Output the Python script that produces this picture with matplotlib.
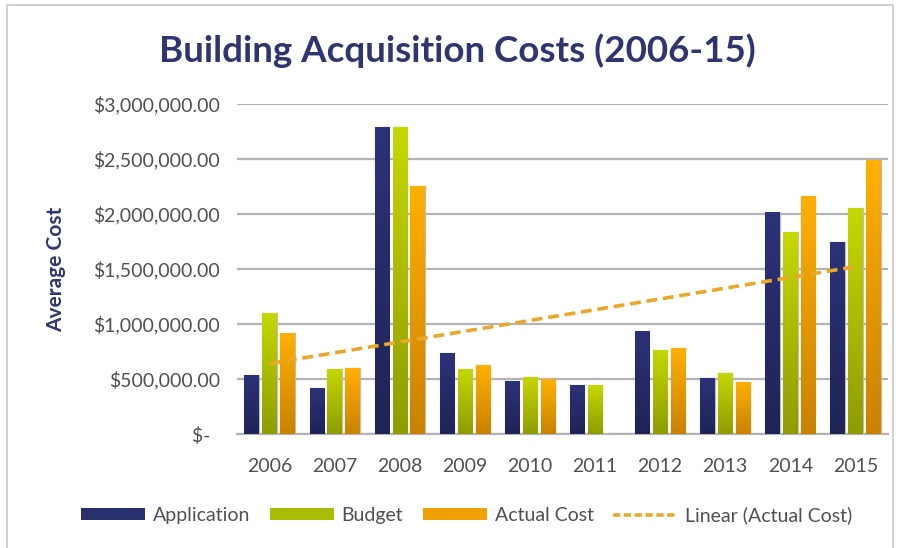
import numpy as np
import matplotlib
matplotlib.use("Agg")
import matplotlib.pyplot as plt
from matplotlib.colors import LinearSegmentedColormap
from matplotlib.patches import Patch, Rectangle
from matplotlib.lines import Line2D
from matplotlib.ticker import FuncFormatter

years = ["2006", "2007", "2008", "2009", "2010", "2011", "2012", "2013", "2014", "2015"]
application = [536000, 418000, 2790000, 736000, 482000, 445000, 936000, 509000, 2018000, 1745000]
budget = [1100000, 591000, 2790000, 591000, 518000, 445000, 764000, 555000, 1836000, 2055000]
actual = [918000, 600000, 2255000, 627000, 500000, 0, 782000, 473000, 2164000, 2490000]

series = [
    ("Application", application, "#1F2456", "#2C3278", "#28306E"),
    ("Budget", budget, "#8E9C00", "#C6D800", "#A8BC00"),
    ("Actual Cost", actual, "#C98200", "#FFB000", "#F0A000"),
]

navy = "#2E3570"
tick_col = "#505050"
plt.rcParams["font.family"] = ["Lato", "DejaVu Sans"]

fig = plt.figure(figsize=(9.04, 5.48), dpi=100)
ax = fig.add_axes([237 / 904, 114 / 548, 651 / 904, 330 / 548])

x = np.arange(len(years))
width = 0.22
offsets = [-0.275, 0.0, 0.275]
grad = np.linspace(0, 1, 256).reshape(-1, 1)

for (name, vals, c_bot, c_top, _), off in zip(series, offsets):
    cmap = LinearSegmentedColormap.from_list(name, [c_bot, c_top])
    bars = ax.bar(x + off, vals, width, color=c_top, edgecolor="#BDBDBD", linewidth=0.9, zorder=3)
    for b in bars:
        h = b.get_height()
        if h <= 0:
            continue
        x0 = b.get_x()
        im = ax.imshow(grad, extent=[x0, x0 + b.get_width(), 0, h], origin="lower",
                       aspect="auto", cmap=cmap, zorder=3.5)
        im.set_clip_path(b)

# linear trendline of actual cost
k, c = np.polyfit(x + 1, actual, 1)
trend = k * (x + 1) + c
ax.plot(x, trend, color="#EBA72A", linewidth=2.6, dashes=(3, 1.6), zorder=4)

ax.set_xlim(-0.5, len(years) - 0.5)
ax.set_ylim(0, 3000000)
ax.set_yticks(np.arange(0, 3000001, 500000))
ax.yaxis.set_major_formatter(FuncFormatter(lambda v, p: "$-  " if v == 0 else "${:,.2f}".format(v)))
ax.set_xticks(x)
ax.set_xticklabels(years)
ax.tick_params(axis="both", length=0, labelsize=14, colors=tick_col)
ax.tick_params(axis="y", pad=12)
ax.tick_params(axis="x", pad=17)
ax.grid(axis="y", color="#B4B4B8", linewidth=1.6, zorder=0)
for s in ["top", "right", "left"]:
    ax.spines[s].set_visible(False)
ax.spines["bottom"].set_color("#B4B4B8")
ax.spines["bottom"].set_linewidth(1.6)

ax.set_ylabel("Average Cost", fontsize=15, fontweight="bold", color=navy, labelpad=20)

fig.text(0.506, 0.907, "Building Acquisition Costs (2006-15)", ha="center", va="center",
         fontsize=26.5, fontweight="bold", color=navy)

# chart border
fig.add_artist(Rectangle((7 / 904, -0.1), 886 / 904, 1.1 - 5 / 548, transform=fig.transFigure,
                         fill=False, edgecolor="#C8C8D2", linewidth=1.2))

handles = [Patch(facecolor=s[4], edgecolor="none") for s in series]
handles.append(Line2D([0], [0], color="#EBA72A", linewidth=2.6, dashes=(2, 1)))
labels = [s[0] for s in series] + ["Linear (Actual Cost)"]
leg = fig.legend(handles, labels, loc="center", bbox_to_anchor=(0.516, 0.060), ncol=4,
                 frameon=False, fontsize=14, handlelength=3.3, handleheight=0.6,
                 handletextpad=0.4, columnspacing=1.0)
for t in leg.get_texts():
    t.set_color(tick_col)

fig.savefig("out.png", dpi=100)
